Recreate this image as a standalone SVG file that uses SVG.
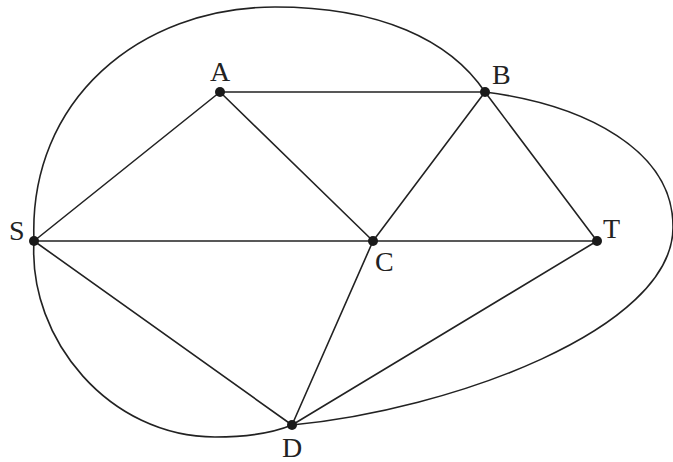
<svg xmlns="http://www.w3.org/2000/svg" width="673" height="462" viewBox="0 0 673 462">
<style>
.e{fill:none;stroke:#222;stroke-width:1.6;stroke-linecap:round}
.n{fill:#1a1a1a}
.l{font-family:"Liberation Serif","Times New Roman",serif;font-size:28px;fill:#222}
</style>
<rect width="673" height="462" fill="#fff"/>
<g id="connectors">
<path class="e" d="M34,241 C28,100 140,7 275,7 C380,7 450,40 485,92"/>
<path class="e" d="M485,92 C585,105 674,150 673,228 C672,330 450,410 292,425"/>
<path class="e" d="M34,241 C28,340 110,437 215,437 C250,437 275,432 292,425"/>
<line class="e" x1="34" y1="241" x2="220" y2="92"/>
<line class="e" x1="220" y1="92" x2="485" y2="92"/>
<line class="e" x1="220" y1="92" x2="373" y2="241"/>
<line class="e" x1="485" y1="92" x2="373" y2="241"/>
<line class="e" x1="485" y1="92" x2="597" y2="241"/>
<line class="e" x1="34" y1="241" x2="597" y2="241"/>
<line class="e" x1="34" y1="241" x2="292" y2="425"/>
<line class="e" x1="373" y1="241" x2="292" y2="425"/>
<line class="e" x1="597" y1="241" x2="292" y2="425"/>
</g>
<g id="A"><circle class="n" cx="220" cy="92" r="5"/><text class="l" x="220" y="81" text-anchor="middle">A</text></g>
<g id="B"><circle class="n" cx="485" cy="92" r="5"/><text class="l" x="492" y="84">B</text></g>
<g id="S"><circle class="n" cx="34" cy="241" r="5"/><text class="l" x="9" y="240">S</text></g>
<g id="C"><circle class="n" cx="373" cy="241" r="5"/><text class="l" x="375" y="271">C</text></g>
<g id="T"><circle class="n" cx="597" cy="241" r="5"/><text class="l" x="603" y="238">T</text></g>
<g id="D"><circle class="n" cx="292" cy="425" r="5"/><text class="l" x="282" y="457">D</text></g>
</svg>
